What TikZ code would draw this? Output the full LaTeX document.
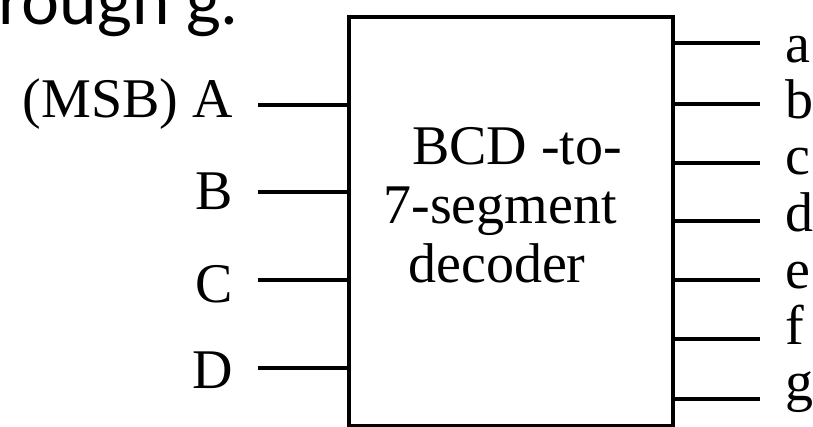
\documentclass[tikz,border=0pt]{standalone}
\usepackage{fontspec}
\setmainfont{Liberation Serif}
\newfontfamily\topfont{Lato}
\begin{document}
\begin{tikzpicture}[x=0.5pt,y=-0.5pt,
  wire/.style={line width=2pt},
  lbl/.style={font=\fontsize{28}{32}\selectfont, inner sep=0pt},
  boxstyle/.style={draw, line width=2pt, minimum width=162pt, minimum height=204.5pt, inner sep=0pt, anchor=north west}]
\useasboundingbox (0,0) rectangle (813,427);
\clip (0,0) rectangle (813,427);
% top text (cut off at the top edge, as in the reference)
\node (top) [anchor=base east, inner sep=0pt, font=\topfont\fontsize{33.6}{36}\selectfont] at (238,25) {rough g.};
% box
\node (box) [boxstyle] at (347,15) {};
\node (t1) [lbl, anchor=base] at (517,165) {BCD -to-};
\node (t2) [lbl, anchor=base] at (500,224) {7-segment};
\node (t3) [lbl, anchor=base] at (497,282) {decoder};
% inputs
\foreach \n/\t/\y/\b in {A/(MSB) A/105/118, B/B/192/210, C/C/280/302, D/D/368/388}{
  \coordinate (i\n) at (258,\y);
  \node (l\n) [lbl, anchor=base east] at (233,\b) {\t};
  \draw[wire] (i\n) -- (i\n -| box.west);
}
% outputs
\foreach \n/\y/\b in {a/43/63, b/104/119, c/163/175, d/221/232, e/280/288, f/339/344, g/399/400}{
  \coordinate (o\n) at (760,\y);
  \node (l\n) [lbl, anchor=base west] at (785,\b) {\n};
  \draw[wire] (o\n -| box.east) -- (o\n);
}
\end{tikzpicture}
\end{document}
